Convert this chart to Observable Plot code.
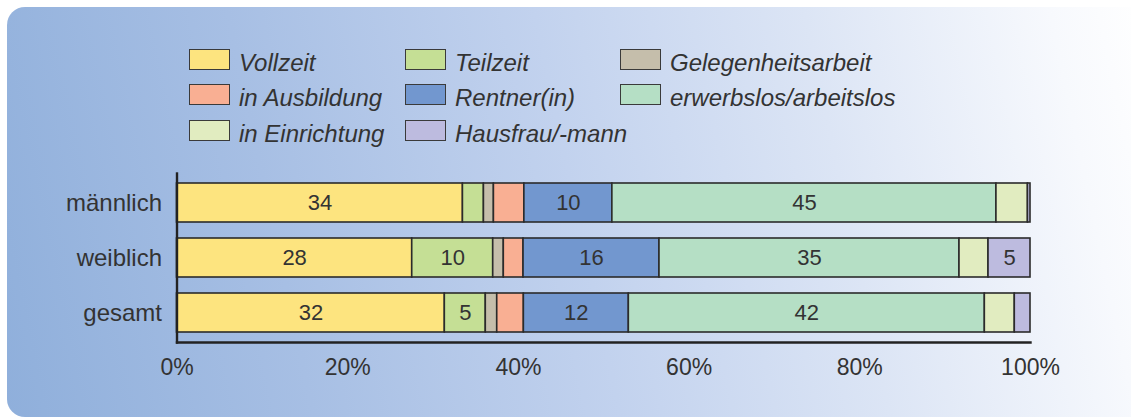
<!DOCTYPE html>
<html>
<head>
<meta charset="utf-8">
<script src="https://cdn.jsdelivr.net/npm/d3@7"></script>
<script src="https://cdn.jsdelivr.net/npm/@observablehq/plot@0.6"></script>
<style>
  html, body { margin: 0; padding: 0; background: #ffffff; }
  #wrap { position: relative; width: 1131px; height: 419px; overflow: hidden; }
  #panel { position: absolute; left: 7px; top: 7px; width: 1140px; height: 410px;
    border-radius: 18px 0 0 18px;
    background: linear-gradient(78deg, #8fafdb 0%, #a7bfe4 25%, #c2d2ee 50%, #dce5f5 72%, #f7f9fd 92%, #ffffff 100%); }
  #chart { position: absolute; left: 0; top: 0; }
  .lg-sw { position: absolute; width: 39px; height: 19px; border: 1.5px solid #3a3a3a; }
  .lg-tx { position: absolute; font-family: "Liberation Sans", Arial, sans-serif; font-style: italic;
    font-size: 24px; line-height: 22px; height: 22px; color: #333; white-space: nowrap; }
</style>
</head>
<body>
<div id="wrap">
  <div id="panel"></div>
  <div id="chart"></div>
  <div id="legend"></div>
</div>
<script>
const categories = ["männlich", "weiblich", "gesamt"];
const series = ["Vollzeit", "Teilzeit", "Gelegenheitsarbeit", "in Ausbildung", "Rentner(in)", "erwerbslos/arbeitslos", "in Einrichtung", "Hausfrau/-mann"];
const colors = ["#fde47f", "#c5df95", "#c5beab", "#f9af93", "#7297cf", "#b5dfc5", "#e1ecc0", "#bdbbdf"];

const valuesMaennlich = [33.5, 2.46, 1.17, 3.57, 10.31, 45.0, 3.69, 0.3];
const valuesWeiblich  = [27.56, 9.49, 1.24, 2.31, 15.93, 35.15, 3.4, 4.92];
const valuesGesamt    = [31.38, 4.8, 1.34, 3.12, 12.3, 41.71, 3.51, 1.84];

const labelsMaennlich = ["34", "", "", "", "10", "45", "", ""];
const labelsWeiblich  = ["28", "10", "", "", "16", "35", "", "5"];
const labelsGesamt    = ["32", "5", "", "", "12", "42", "", ""];

const xTicks = [0, 20, 40, 60, 80, 100];

const valueSets = [valuesMaennlich, valuesWeiblich, valuesGesamt];
const labelSets = [labelsMaennlich, labelsWeiblich, labelsGesamt];
const rows = [];
categories.forEach((c, i) => {
  series.forEach((s, j) => {
    rows.push({category: c, series: s, value: valueSets[i][j], label: labelSets[i][j]});
  });
});

const chart = Plot.plot({
  width: 1131,
  height: 419,
  marginLeft: 176.5,
  marginRight: 101,
  marginTop: 173,
  marginBottom: 77,
  style: {background: "transparent", fontFamily: "'Liberation Sans', Arial, sans-serif", fontSize: "23px", color: "#333"},
  x: {domain: [0, 100], ticks: xTicks, tickFormat: d => d + "%", tickSize: 0, tickPadding: 16, label: null},
  y: {domain: categories, paddingInner: 0.3, paddingOuter: 0.17, tickSize: 0, tickPadding: 15, label: null},
  color: {domain: series, range: colors},
  marks: [
    Plot.barX(rows, Plot.stackX({x: "value", y: "category", fill: "series", stroke: "#2b2b2b", strokeWidth: 1.6, order: null})),
    Plot.text(rows, Plot.stackX({x: "value", y: "category", text: "label", order: null, fontSize: 22, fill: "#333"})),
    Plot.axisY({tickSize: 0, tickPadding: 15, fontSize: 24, label: null}),
    Plot.frame({anchor: "left", stroke: "#222", strokeWidth: 2.4}),
    Plot.frame({anchor: "bottom", stroke: "#222", strokeWidth: 2.4})
  ]
});
document.getElementById("chart").appendChild(chart);

// legend (row-major, three columns)
const colX = [189, 405, 620];
const rowY = [49, 84, 120];
const legend = document.getElementById("legend");
series.forEach((s, i) => {
  const c = i % 3, r = Math.floor(i / 3);
  const sw = document.createElement("div");
  sw.className = "lg-sw";
  sw.style.left = colX[c] + "px";
  sw.style.top = rowY[r] + "px";
  sw.style.background = colors[i];
  legend.appendChild(sw);
  const tx = document.createElement("div");
  tx.className = "lg-tx";
  tx.style.left = (colX[c] + 50) + "px";
  tx.style.top = (rowY[r] + 3) + "px";
  tx.textContent = s;
  legend.appendChild(tx);
});
</script>
</body>
</html>
